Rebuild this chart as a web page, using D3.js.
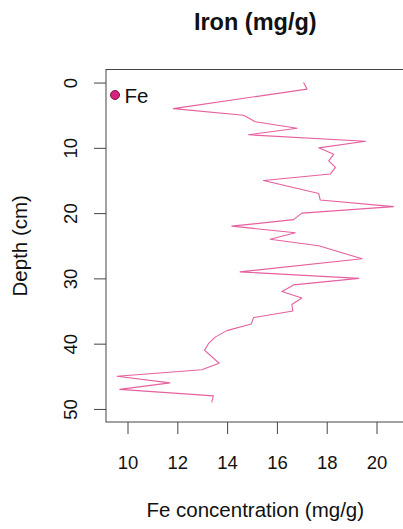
<!DOCTYPE html>
<html>
<head>
<meta charset="utf-8">
<script src="https://cdn.jsdelivr.net/npm/d3@7"></script>
<style>
  html, body { margin: 0; padding: 0; background: #fff; }
  svg { display: block; }
  text { font-family: "Liberation Sans", Arial, Helvetica, sans-serif; fill: #111; }
</style>
</head>
<body>
<script>
// Data (depth in cm, Fe in mg/g)
const depth = [0, 1, 4, 5, 6, 7, 8, 9, 10, 11, 12, 13, 14, 15, 17, 18, 19, 20, 21, 22, 23, 24, 25, 27, 29, 30, 31, 32, 33, 34, 35, 36, 37, 38, 39, 40, 41, 43, 44, 45, 46, 47, 48, 49];
const fe = [17.07, 17.21, 11.84, 14.66, 15.13, 16.81, 14.86, 19.56, 17.68, 18.28, 18.08, 18.35, 18.15, 15.46, 17.68, 17.74, 20.68, 17.0, 16.67, 14.19, 16.74, 15.73, 17.68, 19.42, 14.52, 19.29, 16.67, 16.2, 17.0, 16.6, 16.64, 15.06, 14.97, 13.99, 13.52, 13.25, 13.09, 13.68, 12.98, 9.58, 11.7, 9.69, 13.45, 13.38];
const xTicks = [10, 12, 14, 16, 18, 20];
const yTicks = [0, 10, 20, 30, 40, 50];
const yLim = [0, 50];
const seriesName = "Fe";
const title = "Iron (mg/g)";
const xLabel = "Fe concentration (mg/g)";
const yLabel = "Depth (cm)";

const W = 403, H = 529;
const box = { left: 106, right: 404.5, top: 69.5, bottom: 422 };
const lineColor = "#e6609f";

const svg = d3.select("body").append("svg").attr("width", W).attr("height", H);

// R-style 4% padding
const xe = d3.extent(fe);
const xp = (xe[1] - xe[0]) * 0.04;
const x = d3.scaleLinear().domain([xe[0] - xp, xe[1] + xp]).range([box.left, box.right]);
const yp = (yLim[1] - yLim[0]) * 0.04;
const y = d3.scaleLinear().domain([yLim[0] - yp, yLim[1] + yp]).range([box.top, box.bottom]);

// line
const pts = depth.map((d, i) => [fe[i], d]);
svg.append("path")
  .datum(pts)
  .attr("fill", "none")
  .attr("stroke", lineColor)
  .attr("stroke-width", 1.1)
  .attr("stroke-linejoin", "round")
  .attr("d", d3.line().x(d => x(d[0])).y(d => y(d[1])));

// box
svg.append("rect")
  .attr("x", box.left).attr("y", box.top)
  .attr("width", box.right - box.left).attr("height", box.bottom - box.top)
  .attr("fill", "none").attr("stroke", "#444").attr("stroke-width", 1);

// x axis
const gx = svg.append("g").attr("transform", `translate(0,${box.bottom})`)
  .call(d3.axisBottom(x).tickValues(xTicks).tickSize(12).tickSizeOuter(0));
gx.select(".domain").remove();
gx.selectAll(".tick line").attr("stroke", "#444");
gx.selectAll(".tick text")
  .attr("y", 46.5).attr("dy", null)
  .style("font-size", "18.5px").style("font-family", "'Liberation Sans', Arial, sans-serif").attr("fill", "#111");

// y axis
const gy = svg.append("g").attr("transform", `translate(${box.left},0)`)
  .call(d3.axisLeft(y).tickValues(yTicks).tickSize(12).tickSizeOuter(0));
gy.select(".domain").remove();
gy.selectAll(".tick line").attr("stroke", "#444");
gy.selectAll(".tick text")
  .attr("x", null).attr("dy", null)
  .attr("text-anchor", "middle")
  .attr("transform", "translate(-29.5,0) rotate(-90)")
  .style("font-size", "18.5px").style("font-family", "'Liberation Sans', Arial, sans-serif").attr("fill", "#111");

// titles
svg.append("text")
  .attr("x", (box.left + box.right) / 2).attr("y", 30)
  .attr("text-anchor", "middle")
  .style("font-size", "23.5px").style("font-weight", "bold")
  .text(title);

svg.append("text")
  .attr("x", (box.left + box.right) / 2).attr("y", 517)
  .attr("text-anchor", "middle")
  .style("font-size", "20.5px")
  .text(xLabel);

svg.append("text")
  .attr("transform", `translate(27,${(box.top + box.bottom) / 2}) rotate(-90)`)
  .attr("text-anchor", "middle")
  .style("font-size", "20.5px")
  .text(yLabel);

// legend
svg.append("circle")
  .attr("cx", 115).attr("cy", 95).attr("r", 4.5)
  .attr("fill", "#d6247c").attr("stroke", "#7a1446").attr("stroke-width", 1);
svg.append("text")
  .attr("x", 124.5).attr("y", 103)
  .style("font-size", "20.5px")
  .text(seriesName);
</script>
</body>
</html>
